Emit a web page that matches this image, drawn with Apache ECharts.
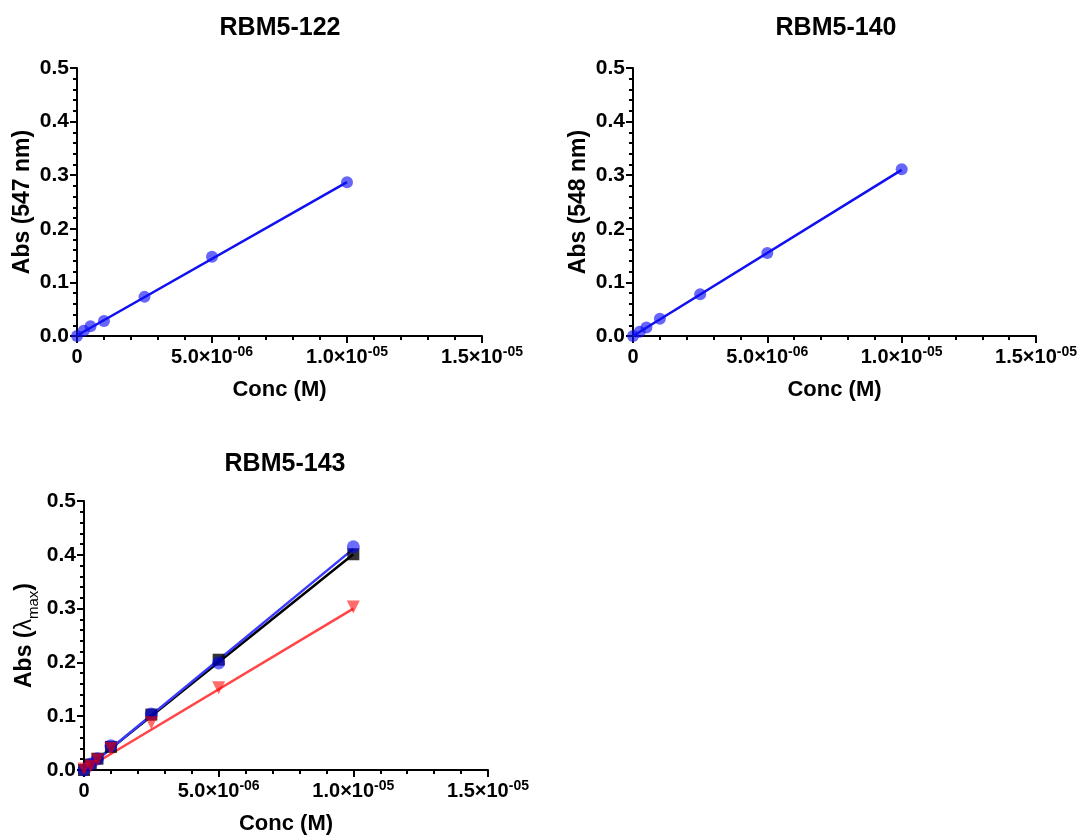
<!DOCTYPE html>
<html>
<head>
<meta charset="utf-8">
<script src="https://cdn.jsdelivr.net/npm/echarts@6/dist/echarts.min.js"></script>
<style>
html,body{margin:0;padding:0;background:#fff;}
#chart{width:1080px;height:836px;}
</style>
</head>
<body>
<div id="chart"></div>
<script>
// ---- data ----
const titles = ['RBM5-122', 'RBM5-140', 'RBM5-143'];
const conc = [0, 2.5e-7, 5e-7, 1e-6, 2.5e-6, 5e-6, 1e-5];
const abs122 = [0.0, 0.010, 0.018, 0.028, 0.073, 0.148, 0.287];
const abs140 = [0.0, 0.008, 0.016, 0.032, 0.078, 0.155, 0.311];
const abs143Blue = [0.0, 0.011, 0.021, 0.045, 0.104, 0.199, 0.415];
const abs143Black = [0.0, 0.010, 0.021, 0.043, 0.103, 0.205, 0.401];
const abs143Red = [0.002, 0.007, 0.019, 0.040, 0.088, 0.153, 0.303];
// linear fit lines (endpoints)
const fitX = [0, 1e-5];
const fit122 = [0.001, 0.287];
const fit140 = [0.0, 0.310];
const fit143Blue = [-0.001, 0.411];
const fit143Black = [0.0, 0.401];
const fit143Red = [0.0, 0.300];
const yTicks = {min: 0, max: 0.5, interval: 0.1};
const xTicks = {min: 0, max: 1.5e-5, interval: 5e-6};

const FONT = 'Liberation Sans, Arial, sans-serif';
const pairs = (xs, ys) => xs.map((x, i) => [x, ys[i]]);

function xLabel(v) {
  if (Math.abs(v) < 1e-12) return '{b|0}';
  const e = Math.floor(Math.log10(v) + 1e-9);
  const m = v / Math.pow(10, e);
  const es = (e < 0 ? '-' : '') + String(Math.abs(e)).padStart(2, '0');
  return '{b|' + m.toFixed(1) + '×10}{sup|' + es + '}';
}

const grids = [
  {left: 77, top: 68, width: 405, height: 268},
  {left: 633, top: 68, width: 404, height: 268},
  {left: 84, top: 501, width: 404, height: 270}
];

function xAxis(i) {
  return {
    type: 'value', gridIndex: i, min: xTicks.min, max: xTicks.max, interval: xTicks.interval,
    name: 'Conc (M)', nameLocation: 'middle', nameGap: 43,
    nameTextStyle: {fontFamily: FONT, fontWeight: 'bold', fontSize: 22, color: '#000'},
    axisLine: {show: true, onZero: false, lineStyle: {color: '#000', width: 2}},
    axisTick: {show: true, length: 7, lineStyle: {color: '#000', width: 2}},
    minorTick: {show: true, splitNumber: 5, length: 4, lineStyle: {color: '#000', width: 2}},
    splitLine: {show: false},
    axisLabel: {
      margin: 9, color: '#000',
      formatter: xLabel,
      rich: {
        b: {fontFamily: FONT, fontWeight: 'bold', fontSize: 20, color: '#000', lineHeight: 25},
        sup: {fontFamily: FONT, fontWeight: 'bold', fontSize: 14, color: '#000', lineHeight: 14, verticalAlign: 'top'}
      },
      fontFamily: FONT, fontWeight: 'bold', fontSize: 20
    }
  };
}

function yAxis(i, name, richName) {
  const ax = {
    type: 'value', gridIndex: i, min: yTicks.min, max: yTicks.max, interval: yTicks.interval,
    name: name, nameLocation: 'middle', nameGap: 43,
    nameTextStyle: {fontFamily: FONT, fontWeight: 'bold', fontSize: 23, color: '#000'},
    axisLine: {show: true, onZero: false, lineStyle: {color: '#000', width: 2}},
    axisTick: {show: true, length: 7, lineStyle: {color: '#000', width: 2}},
    minorTick: {show: true, splitNumber: 5, length: 4, lineStyle: {color: '#000', width: 2}},
    splitLine: {show: false},
    axisLabel: {
      margin: 8, color: '#000', fontFamily: FONT, fontWeight: 'bold', fontSize: 21,
      formatter: v => v.toFixed(1)
    }
  };
  if (richName) {
    ax.nameTextStyle.rich = richName;
  }
  return ax;
}

function scatter(i, ys, color, symbol, size, rotate) {
  return {
    type: 'scatter', xAxisIndex: i, yAxisIndex: i, data: pairs(conc, ys),
    symbol: symbol, symbolSize: size, symbolRotate: rotate || 0, clip: false,
    itemStyle: {color: color}, z: 5
  };
}
function fitLine(i, ys, color, width) {
  return {
    type: 'line', xAxisIndex: i, yAxisIndex: i, data: pairs(fitX, ys),
    showSymbol: false, symbol: 'none', clip: false,
    lineStyle: {color: color, width: width}, z: 3, silent: true
  };
}

const titleStyle = {fontFamily: FONT, fontWeight: 'bold', fontSize: 25, color: '#000'};

const option = {
  backgroundColor: '#fff',
  animation: false,
  title: [
    {text: titles[0], left: 280, top: 16, textAlign: 'center', padding: 0, textStyle: titleStyle},
    {text: titles[1], left: 836, top: 16, textAlign: 'center', padding: 0, textStyle: titleStyle},
    {text: titles[2], left: 285, top: 452, textAlign: 'center', padding: 0, textStyle: titleStyle}
  ],
  grid: grids,
  xAxis: [xAxis(0), xAxis(1), xAxis(2)],
  yAxis: [
    yAxis(0, 'Abs (547 nm)'),
    yAxis(1, 'Abs (548 nm)'),
    yAxis(2, '{a|Abs (}{l|λ}{sub|max}{a|)}', {
      a: {fontFamily: FONT, fontWeight: 'bold', fontSize: 23, color: '#000', lineHeight: 32},
      l: {fontFamily: FONT, fontWeight: 'normal', fontSize: 23, color: '#000', lineHeight: 32},
      sub: {fontFamily: FONT, fontWeight: 'normal', fontSize: 15, color: '#000', lineHeight: 15, verticalAlign: 'bottom'}
    })
  ],
  series: [
    fitLine(0, fit122, '#1010f0', 2.5),
    scatter(0, abs122, 'rgba(15,15,245,0.8)', 'circle', 12),
    fitLine(1, fit140, '#1010f0', 2.5),
    scatter(1, abs140, 'rgba(15,15,245,0.8)', 'circle', 12),
    fitLine(2, fit143Black, '#000000', 2.5),
    fitLine(2, fit143Blue, '#3a3aff', 2.5),
    fitLine(2, fit143Red, '#ff4545', 2.5),
    scatter(2, abs143Black, '#000000', 'rect', 12),
    scatter(2, abs143Blue, 'rgba(0,0,255,0.72)', 'circle', 13),
    scatter(2, abs143Red, 'rgba(255,0,0,0.72)', 'triangle', 13, 180)
  ]
};

const chart = echarts.init(document.getElementById('chart'), null, {renderer: 'canvas'});
chart.setOption(option);
</script>
</body>
</html>
